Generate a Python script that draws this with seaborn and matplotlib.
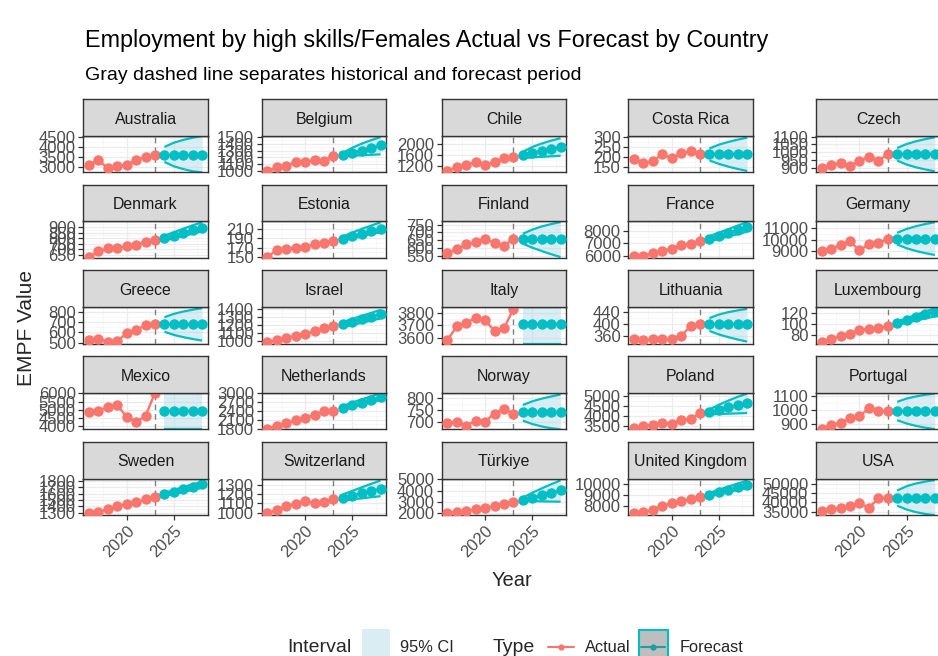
import numpy as np
import pandas as pd
import matplotlib
matplotlib.use("Agg")
import matplotlib.pyplot as plt
import seaborn as sns
from matplotlib.ticker import FixedLocator, AutoMinorLocator
from matplotlib.patches import Rectangle
from matplotlib.lines import Line2D

# ---------------- data ----------------
countries = ["Australia", "Belgium", "Chile", "Costa Rica", "Czech",
             "Denmark", "Estonia", "Finland", "France", "Germany",
             "Greece", "Israel", "Italy", "Lithuania", "Luxembourg",
             "Mexico", "Netherlands", "Norway", "Poland", "Portugal",
             "Sweden", "Switzerland", "Türkiye", "United Kingdom", "USA"]

actual_years = [2016, 2017, 2018, 2019, 2020, 2021, 2022, 2023]
forecast_years = [2024, 2025, 2026, 2027, 2028]

actual_values = {
    "Australia": [3083, 3330, 2920, 3033, 3083, 3330, 3495, 3610],
    "Belgium": [1005, 1055, 1075, 1130, 1140, 1160, 1155, 1220],
    "Chile": [1000, 1160, 1225, 1350, 1225, 1350, 1475, 1540],
    "Costa Rica": [189, 167, 179, 213, 192, 218, 230, 213],
    "Czech": [896, 917, 932, 911, 943, 971, 945, 986],
    "Denmark": [625, 681, 706, 712, 728, 737, 769, 781],
    "Estonia": [151, 164, 168, 170, 171, 178, 180, 185],
    "Finland": [572, 594, 626, 639, 661, 632, 617, 661],
    "France": [5940, 6000, 6170, 6370, 6570, 6860, 6970, 7200],
    "Germany": [9000, 9215, 9525, 9845, 9060, 9590, 9680, 10090],
    "Greece": [523, 540, 507, 517, 590, 623, 667, 677],
    "Israel": [987, 1009, 1043, 1065, 1087, 1122, 1165, 1183],
    "Italy": [3580, 3691, 3720, 3763, 3743, 3654, 3677, 3834],
    "Lithuania": [350, 349, 350, 350, 350, 361, 394, 401],
    "Luxembourg": [67.7, 73.8, 78, 83, 89, 92, 93.5, 96.6],
    "Mexico": [4900, 4960, 5170, 5270, 4585, 4270, 4625, 6040],
    "Netherlands": [1800, 1910, 1980, 2090, 2170, 2280, 2390, 2420],
    "Norway": [697, 700, 686, 707, 703, 736, 754, 736],
    "Poland": [3410, 3500, 3550, 3640, 3620, 3800, 3850, 4150],
    "Portugal": [862, 892, 908, 939, 952, 1012, 991, 991],
    "Sweden": [1295, 1310, 1350, 1400, 1440, 1465, 1510, 1545],
    "Switzerland": [1000, 1025, 1070, 1095, 1123, 1106, 1116, 1141],
    "Türkiye": [2000, 2090, 2150, 2300, 2450, 2600, 2810, 3000],
    "United Kingdom": [7340, 7490, 7640, 8000, 8300, 8450, 8600, 8800],
    "USA": [35360, 36250, 37140, 38040, 39830, 37140, 42140, 42500],
}

forecast_values = {
    "Australia": [3610, 3610, 3610, 3610, 3610],
    "Belgium": [1240, 1270, 1300, 1330, 1375],
    "Chile": [1600, 1680, 1760, 1840, 1910],
    "Costa Rica": [213, 213, 213, 213, 213],
    "Czech": [986, 986, 986, 986, 986],
    "Denmark": [800, 823, 847, 870, 894],
    "Estonia": [189, 194, 200, 205, 210],
    "Finland": [661, 661, 661, 661, 661],
    "France": [7370, 7600, 7830, 8060, 8290],
    "Germany": [10090, 10090, 10090, 10090, 10090],
    "Greece": [677, 677, 677, 677, 677],
    "Israel": [1209, 1242, 1274, 1307, 1339],
    "Italy": [3711, 3711, 3711, 3711, 3711],
    "Lithuania": [400, 400, 400, 400, 400],
    "Luxembourg": [101.5, 107, 112.5, 118, 123],
    "Mexico": [4960, 4960, 4960, 4960, 4960],
    "Netherlands": [2500, 2590, 2680, 2780, 2870],
    "Norway": [743, 743, 743, 743, 743],
    "Poland": [4200, 4320, 4440, 4560, 4670],
    "Portugal": [991, 991, 991, 991, 991],
    "Sweden": [1590, 1630, 1670, 1710, 1750],
    "Switzerland": [1159, 1183, 1207, 1230, 1254],
    "Türkiye": [3120, 3345, 3570, 3795, 4020],
    "United Kingdom": [9040, 9265, 9490, 9715, 9940],
    "USA": [42500, 42500, 42500, 42500, 42500],
}

ci_upper = {
    "Australia": [3990, 4200, 4340, 4450, 4540],
    "Belgium": [1265, 1340, 1400, 1450, 1495],
    "Chile": [1720, 1900, 2030, 2140, 2230],
    "Costa Rica": [243, 262, 276, 288, 298],
    "Czech": [1027, 1052, 1070, 1084, 1096],
    "Denmark": [822, 855, 886, 917, 945],
    "Estonia": [194, 202, 210, 217, 224],
    "Finland": [692, 718, 738, 753, 766],
    "France": [7570, 7860, 8140, 8430, 8710],
    "Germany": [10600, 10930, 11170, 11360, 11520],
    "Greece": [745, 778, 800, 818, 833],
    "Israel": [1239, 1277, 1315, 1353, 1391],
    "Italy": [3990, 4050, 4100, 4140, 4180],
    "Lithuania": [421, 433, 441, 447, 452],
    "Luxembourg": [104.6, 111, 117, 123, 129],
    "Mexico": [6500, 6800, 7000, 7200, 7400],
    "Netherlands": [2580, 2690, 2800, 2900, 3000],
    "Norway": [771, 786, 797, 806, 814],
    "Poland": [4330, 4570, 4780, 4970, 5140],
    "Portugal": [1056, 1080, 1095, 1107, 1116],
    "Sweden": [1615, 1660, 1705, 1750, 1790],
    "Switzerland": [1194, 1232, 1270, 1307, 1343],
    "Türkiye": [3360, 3800, 4200, 4570, 4920],
    "United Kingdom": [9190, 9470, 9750, 10020, 10300],
    "USA": [46400, 48700, 50200, 51200, 52000],
}

ci_lower = {
    "Australia": [3240, 3020, 2880, 2770, 2700],
    "Belgium": [1215, 1225, 1232, 1238, 1245],
    "Chile": [1480, 1510, 1530, 1550, 1570],
    "Costa Rica": [182, 164, 150, 138, 128],
    "Czech": [945, 920, 902, 888, 876],
    "Denmark": [777, 799, 820, 841, 862],
    "Estonia": [185, 190, 194, 199, 203],
    "Finland": [630, 604, 583, 563, 545],
    "France": [7140, 7340, 7540, 7740, 7940],
    "Germany": [9580, 9250, 9010, 8820, 8660],
    "Greece": [605, 575, 553, 535, 520],
    "Israel": [1174, 1201, 1228, 1256, 1283],
    "Italy": [3430, 3370, 3320, 3280, 3240],
    "Lithuania": [378, 366, 357, 349, 342],
    "Luxembourg": [98.5, 102.5, 106.5, 110.5, 114],
    "Mexico": [3400, 3100, 2900, 2700, 2500],
    "Netherlands": [2440, 2525, 2610, 2695, 2780],
    "Norway": [707, 693, 683, 676, 670],
    "Poland": [4080, 4100, 4120, 4135, 4150],
    "Portugal": [926, 902, 885, 872, 862],
    "Sweden": [1560, 1595, 1630, 1660, 1695],
    "Switzerland": [1130, 1142, 1153, 1165, 1176],
    "Türkiye": [3060, 3050, 3030, 3010, 3000],
    "United Kingdom": [8890, 9080, 9270, 9450, 9640],
    "USA": [38300, 36200, 34800, 33800, 33000],
}

y_tick_values = {
    "Australia": [3000, 3500, 4000, 4500],
    "Belgium": [1000, 1100, 1200, 1300, 1400, 1500],
    "Chile": [1200, 1600, 2000],
    "Costa Rica": [150, 200, 250, 300],
    "Czech": [900, 950, 1000, 1050, 1100],
    "Denmark": [650, 700, 750, 800, 850, 900],
    "Estonia": [150, 170, 190, 210],
    "Finland": [550, 600, 650, 700, 750],
    "France": [6000, 7000, 8000],
    "Germany": [9000, 10000, 11000],
    "Greece": [500, 600, 700, 800],
    "Israel": [1000, 1100, 1200, 1300, 1400],
    "Italy": [3600, 3700, 3800],
    "Lithuania": [360, 400, 440],
    "Luxembourg": [80, 100, 120],
    "Mexico": [4000, 4500, 5000, 5500, 6000],
    "Netherlands": [1800, 2100, 2400, 2700, 3000],
    "Norway": [700, 750, 800],
    "Poland": [3500, 4000, 4500, 5000],
    "Portugal": [900, 1000, 1100],
    "Sweden": [1300, 1400, 1500, 1600, 1700, 1800],
    "Switzerland": [1000, 1100, 1200, 1300],
    "Türkiye": [2000, 3000, 4000, 5000],
    "United Kingdom": [8000, 9000, 10000],
    "USA": [35000, 40000, 45000, 50000],
}

# y-scale limits (values outside are squished onto the limit, as in the source)
y_limits = {
    "Australia": (2720, 4550), "Belgium": (985, 1515), "Chile": (950, 2325),
    "Costa Rica": (121, 308), "Czech": (870, 1106),
    "Denmark": (619, 953), "Estonia": (148, 226), "Finland": (539, 770),
    "France": (5800, 8770), "Germany": (8400, 11590),
    "Greece": (490, 843), "Israel": (965, 1426), "Italy": (3549, 3851),
    "Lithuania": (335, 458), "Luxembourg": (64.6, 131),
    "Mexico": (3810, 6040), "Netherlands": (1780, 3020), "Norway": (671, 821),
    "Poland": (3324, 5176), "Portugal": (860, 1121),
    "Sweden": (1260, 1843), "Switzerland": (975, 1364), "Türkiye": (1790, 5090),
    "United Kingdom": (7190, 10480), "USA": (33210, 52860),
}

# ---------------- style ----------------
sns.set_theme(style="white")
plt.rcParams["font.family"] = ["Liberation Sans", "DejaVu Sans"]

RED = "#F8766D"
TEAL = "#00BFC4"
W, H = 938, 656
fig = plt.figure(figsize=(W / 100, H / 100), dpi=100)


def px_axes(x0, y0, w, h):
    return fig.add_axes([x0 / W, 1 - (y0 + h) / H, w / W, h / H])


col_x = [83.3, 261.7, 441.7, 628.3, 816.0]
panel_w = 124.5
strip_top0 = 99.0
row_step = 85.7
strip_h = 36.7
panel_h = 36.6

rows = []
for c in countries:
    for yr, v in zip(actual_years, actual_values[c]):
        rows.append((c, yr, v, "Actual"))
    for yr, v in zip(forecast_years, forecast_values[c]):
        rows.append((c, yr, v, "Forecast"))
df = pd.DataFrame(rows, columns=["Country", "Year", "Value", "Type"])

TICK_FS = 12.0

for i, c in enumerate(countries):
    r, k = divmod(i, 5)
    st = strip_top0 + r * row_step
    ax = px_axes(col_x[k], st + strip_h, panel_w, panel_h)
    sx = px_axes(col_x[k], st, panel_w, strip_h)

    lo, hi = y_limits[c]
    up = np.clip(np.array(ci_upper[c], float), lo, hi)
    dn = np.clip(np.array(ci_lower[c], float), lo, hi)
    ax.fill_between(forecast_years, dn, up, color="#ADD8E6", alpha=0.45, lw=0, zorder=1)
    ax.plot(forecast_years, up, color=TEAL, lw=1.6, zorder=2, solid_capstyle="butt")
    ax.plot(forecast_years, dn, color=TEAL, lw=1.6, zorder=2, solid_capstyle="butt")
    ax.axvline(2023, color="#808080", ls=(0, (4, 3)), lw=1.0, zorder=2)

    sub = df[df["Country"] == c]
    sns.lineplot(data=sub, x="Year", y="Value", hue="Type",
                 palette={"Actual": RED, "Forecast": TEAL},
                 marker="o", markersize=7.5, markeredgewidth=0, lw=1.7,
                 legend=False, ax=ax, zorder=3)

    ax.set_xlim(2015.4, 2028.6)
    ax.set_ylim(lo, hi)
    ax.yaxis.set_major_locator(FixedLocator(y_tick_values[c]))
    ax.yaxis.set_minor_locator(AutoMinorLocator(2))
    ax.xaxis.set_major_locator(FixedLocator([2020, 2025]))
    ax.xaxis.set_minor_locator(FixedLocator([2017.5, 2022.5, 2027.5]))
    ax.grid(True, which="major", color="#EBEBEB", lw=0.9)
    ax.grid(True, which="minor", color="#F4F4F4", lw=0.5)
    ax.set_axisbelow(True)
    ax.set_xlabel("")
    ax.set_ylabel("")
    for s in ax.spines.values():
        s.set_color("#333333")
        s.set_linewidth(1.0)
    ax.tick_params(axis="y", which="major", length=3.5, width=0.9, color="#333333",
                   labelsize=TICK_FS, labelcolor="#4D4D4D", pad=2, left=True)
    ax.tick_params(axis="y", which="minor", length=0)
    ax.tick_params(axis="x", which="minor", length=0)
    if r == 4:
        ax.tick_params(axis="x", which="major", length=3.5, width=0.9, color="#333333",
                       labelsize=TICK_FS, labelcolor="#4D4D4D", pad=2, bottom=True)
        ax.set_xticks([2020, 2025])
        ax.set_xticklabels(["2020", "2025"], rotation=45, ha="right", va="top",
                           rotation_mode="anchor")
    else:
        ax.tick_params(axis="x", which="major", length=0, labelbottom=False)

    sx.set_facecolor("#D9D9D9")
    sx.set_xticks([])
    sx.set_yticks([])
    for s in sx.spines.values():
        s.set_color("#333333")
        s.set_linewidth(1.0)
    sx.text(0.5, 0.45, c, ha="center", va="center", fontsize=11.4, color="#1A1A1A",
            transform=sx.transAxes)

# ---------------- titles ----------------
def fx(x):
    return x / W


def fy(y):
    return 1 - y / H


fig.text(fx(85), fy(40), "Employment by high skills/Females Actual vs Forecast by Country",
         fontsize=16.8, ha="left", va="center", color="black")
fig.text(fx(85), fy(75), "Gray dashed line separates historical and forecast period",
         fontsize=14, ha="left", va="center", color="black")
fig.text(fx(27), fy(328), "EMPF Value", rotation=90, fontsize=15, ha="center", va="center")
fig.text(fx(512), fy(581), "Year", fontsize=14.5, ha="center", va="center")

# ---------------- legend ----------------
lg = fig.add_axes([0, 0, 1, 1], facecolor="none")
lg.set_xlim(0, W)
lg.set_ylim(H, 0)
lg.axis("off")
ly = 647
lg.text(287, ly, "Interval", fontsize=14, ha="left", va="center")
lg.add_patch(Rectangle((362, 629), 28, 34, facecolor="#ADD8E6", alpha=0.45, lw=0))
lg.text(400, ly, "95% CI", fontsize=11.8, ha="left", va="center")
lg.text(493, ly, "Type", fontsize=14, ha="left", va="center")
lg.add_line(Line2D([548, 574], [ly, ly], color=RED, lw=1.5))
lg.add_line(Line2D([561], [ly], color=RED, marker="o", markersize=4.5, markeredgewidth=0))
lg.text(585, ly, "Actual", fontsize=11.8, ha="left", va="center")
lg.add_patch(Rectangle((638.5, 629.5), 29, 34, facecolor="#BEBEBE", edgecolor=TEAL, lw=1.5))
lg.add_line(Line2D([641, 665], [ly, ly], color="#1C9EA3", lw=1.5))
lg.add_line(Line2D([653], [ly], color="#1C9EA3", marker="o", markersize=4.5, markeredgewidth=0))
lg.text(680, ly, "Forecast", fontsize=11.8, ha="left", va="center")

fig.savefig("out.png", dpi=100)
